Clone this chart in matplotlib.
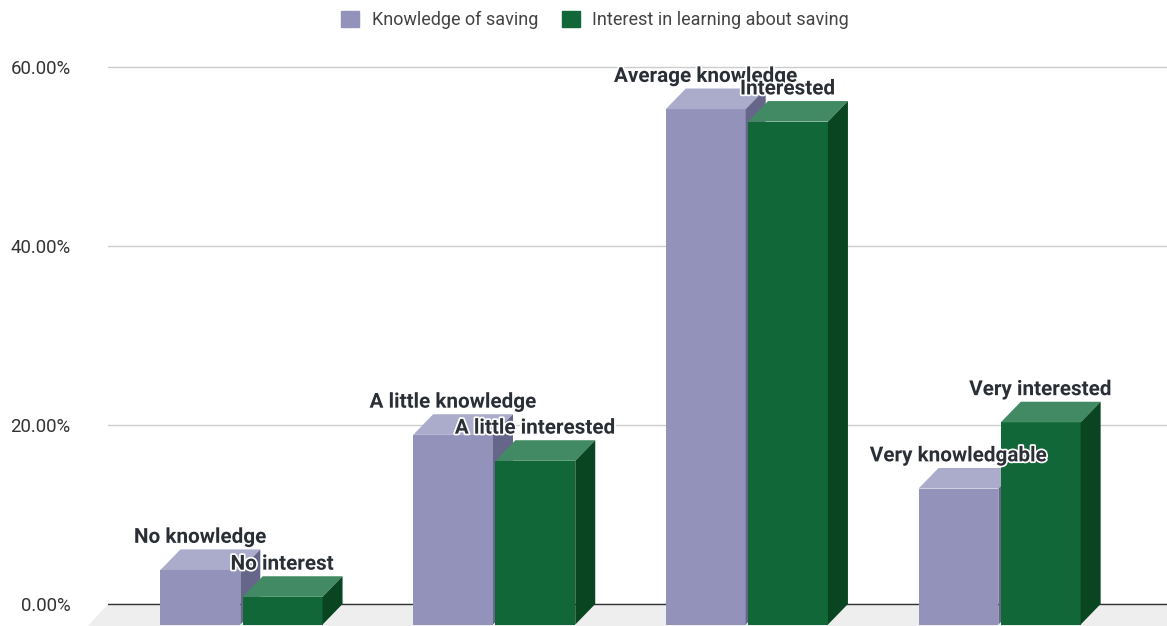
import numpy as np
import matplotlib.pyplot as plt
import matplotlib.patheffects as pe
from matplotlib.patches import Patch

plt.rcParams['font.family'] = ['Roboto', 'DejaVu Sans']

knowledge = [6.1, 21.2, 57.6, 15.2]
interest = [3.1, 18.3, 56.2, 22.6]
knowledge_labels = ['No knowledge', 'A little knowledge', 'Average knowledge', 'Very knowledgable']
interest_labels = ['No interest', 'A little interested', 'Interested', 'Very interested']
yticks = [0, 20, 40, 60]
series_names = ['Knowledge of saving', 'Interest in learning about saving']

# front, top, side shades per series
purple = ('#9292bb', '#ababcc', '#66668a')
green = ('#116737', '#428a63', '#0a4522')

bar_w = 0.316
gap = 0.0095
dx = 0.0791
dy = 2.3


def bar3d(ax, x, value, cols):
    base = -dy
    top = value - dy
    ax.bar(x, value, bar_w, bottom=base, color=cols[0], align='edge', zorder=3)
    ax.fill([x, x + dx, x + bar_w + dx, x + bar_w],
            [top, top + dy, top + dy, top], color=cols[1], lw=0, zorder=3)
    ax.fill([x + bar_w, x + bar_w + dx, x + bar_w + dx, x + bar_w],
            [base, base + dy, top + dy, top], color=cols[2], lw=0, zorder=3)


fig = plt.figure(figsize=(11.67, 6.26), dpi=100)
ax = fig.add_axes([108 / 1167, 0, 1059 / 1167, 1])
ax.set_xlim(-133.5 / 252.7, 925.5 / 252.7)
ax.set_ylim(-2.458, 67.49)

for s in ax.spines.values():
    s.set_visible(False)
ax.set_xticks([])
ax.set_yticks(yticks)
ax.set_yticklabels(['%.2f%%' % t for t in yticks], fontsize=13.4, color='#333333')
ax.tick_params(axis='y', length=0, pad=27)
ax.grid(axis='y', color='#cccccc', lw=1, zorder=0)
ax.set_axisbelow(True)

# floor under the bars, and the zero line on the back wall
ax.fill([-133.5 / 252.7 - dx, -133.5 / 252.7, 925.5 / 252.7, 925.5 / 252.7],
        [-2.458, 0, 0, -2.458], color='#eeeeee', lw=0, zorder=1, clip_on=False)
ax.axhline(0, color='#333333', lw=1, zorder=2)

halo = [pe.withStroke(linewidth=2.5, foreground='white')]
labels = []
for i in range(len(knowledge)):
    x1 = i - gap / 2 - bar_w
    x2 = i + gap / 2
    bar3d(ax, x1, knowledge[i], purple)
    bar3d(ax, x2, interest[i], green)
    labels.append((x1 + bar_w / 2, knowledge[i], knowledge_labels[i]))
    labels.append((x2 + bar_w / 2, interest[i], interest_labels[i]))

for x, v, s in labels:
    ax.annotate(s, (x, v), xytext=(-0.5, 8.7), textcoords='offset points',
                ha='center', va='center', fontsize=14.9, fontweight='bold',
                color='#2a2e35', path_effects=halo, zorder=5)

handles = [Patch(color=purple[0]), Patch(color=green[0])]
fig.legend(handles, series_names, loc='center', bbox_to_anchor=(595 / 1167, 1 - 20 / 626),
           ncol=2, frameon=False, fontsize=13.0, labelcolor='#444444',
           handlelength=1.0, handleheight=1.0, handletextpad=0.7, columnspacing=1.3)

fig.savefig('out.png', dpi=100)
